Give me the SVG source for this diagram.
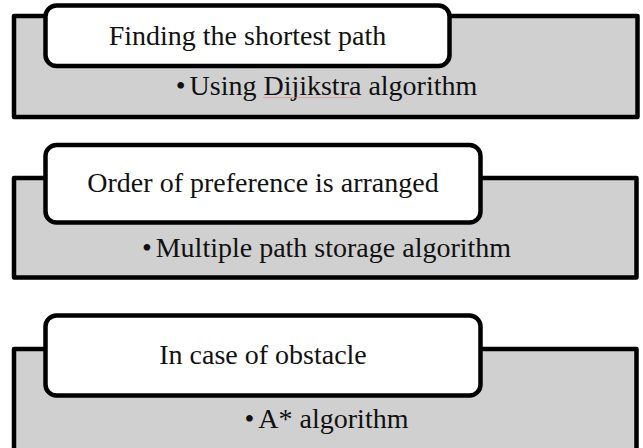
<svg xmlns="http://www.w3.org/2000/svg" width="643" height="448" viewBox="0 0 643 448">
<style>
.panel{fill:#d0d0d0;stroke:#000;stroke-width:4.5;stroke-linejoin:round}
.tab{fill:#fff;stroke:#000;stroke-width:4.5}
.t{font-family:"Liberation Serif","Times New Roman",serif;font-size:28px;fill:#111;text-anchor:middle}
</style>
<rect width="643" height="448" fill="#fff"/>
<g id="node1">
<rect class="panel" x="14" y="16" width="623.5" height="101"/>
<rect class="tab" x="45.5" y="5.5" width="404" height="60.5" rx="11"/>
<text class="t" x="247.5" y="45">Finding the shortest path</text>
<text class="t" x="326.5" y="95">•<tspan dx="4">Using Dijikstra algorithm</tspan></text>
<path d="M263 97.5 H358" stroke="#e08080" stroke-width="0.8" fill="none" opacity="0.7"/>
</g>
<g id="node2">
<rect class="panel" x="14" y="178" width="622.5" height="99.5"/>
<rect class="tab" x="45.5" y="145" width="435" height="77.5" rx="11"/>
<text class="t" x="263" y="192">Order of preference is arranged</text>
<text class="t" x="326.5" y="257">•<tspan dx="4">Multiple path storage algorithm</tspan></text>
</g>
<g id="node3">
<rect class="panel" x="14" y="349" width="622.5" height="120"/>
<rect class="tab" x="45.5" y="315.5" width="435" height="80" rx="11"/>
<text class="t" x="263" y="364">In case of obstacle</text>
<text class="t" x="326.5" y="428">•<tspan dx="4">A* algorithm</tspan></text>
</g>
<g id="connectors"></g>
</svg>
